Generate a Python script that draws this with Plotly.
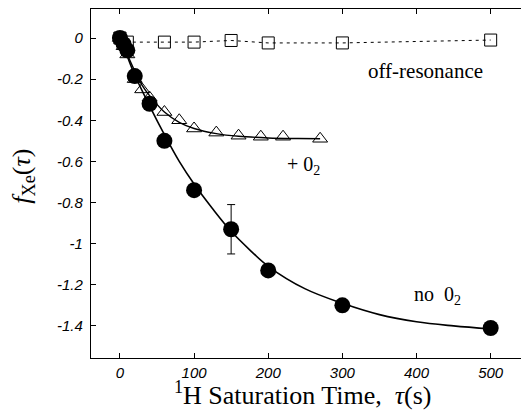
import plotly.graph_objects as go

# ---- data ----
noO2_t = [0, 5, 10, 20, 40, 60, 100, 150, 200, 300, 500]
noO2_f = [0, -0.03, -0.06, -0.185, -0.32, -0.50, -0.74, -0.93, -1.13, -1.30, -1.41]
noO2_err = [0, 0, 0, 0, 0, 0, 0, 0.12, 0, 0, 0]

o2_t = [0, 5, 10, 20, 30, 40, 60, 80, 100, 130, 160, 190, 220, 270]
o2_f = [0, -0.04, -0.08, -0.20, -0.25, -0.29, -0.36, -0.40, -0.44, -0.46, -0.475, -0.48, -0.48, -0.49]

off_t = [0, 10, 60, 100, 150, 200, 300, 500]
off_f = [0, -0.02, -0.02, -0.02, -0.012, -0.024, -0.024, -0.01]

fit_noO2_t = [0, 10, 20, 40, 60, 80, 100, 125, 150, 175, 200, 250, 300, 350, 400, 450, 500]
fit_noO2_f = [0, -0.09, -0.18, -0.33, -0.47, -0.60, -0.71, -0.83, -0.94, -1.03, -1.11, -1.22, -1.29, -1.345, -1.38, -1.40, -1.415]

fit_o2_t = [0, 10, 20, 30, 40, 60, 80, 100, 130, 160, 200, 240, 270]
fit_o2_f = [0, -0.08, -0.16, -0.23, -0.28, -0.36, -0.41, -0.44, -0.465, -0.478, -0.486, -0.489, -0.49]

y_tickvals = [0, -0.2, -0.4, -0.6, -0.8, -1, -1.2, -1.4]
y_ticktext = ["0", "-0.2", "-0.4", "-0.6", "-0.8", "-1", "-1.2", "-1.4"]
x_tickvals = [0, 100, 200, 300, 400, 500]
x_ticktext = ["0", "100", "200", "300", "400", "500"]

fig = go.Figure()

fig.add_trace(go.Scatter(x=fit_noO2_t, y=fit_noO2_f, mode="lines", line_shape="spline",
                         line=dict(color="black", width=1.6), hoverinfo="skip"))
fig.add_trace(go.Scatter(x=fit_o2_t, y=fit_o2_f, mode="lines", line_shape="spline",
                         line=dict(color="black", width=1.4), hoverinfo="skip"))
fig.add_trace(go.Scatter(x=off_t, y=off_f, mode="lines+markers",
                         line=dict(color="black", width=1, dash="3px,4px"),
                         marker=dict(symbol="square-open", size=12, color="black", line=dict(width=1))))
fig.add_trace(go.Scatter(x=o2_t, y=o2_f, mode="markers",
                         marker=dict(symbol="triangle-up-open", size=13, color="black", line=dict(width=1))))
fig.add_trace(go.Scatter(x=noO2_t, y=noO2_f, mode="markers",
                         error_y=dict(type="data", array=noO2_err, visible=True, color="black",
                                      thickness=1, width=4),
                         marker=dict(symbol="circle", size=16, color="black")))

serif = "Liberation Serif, Times New Roman, serif"
fig.add_annotation(x=412, y=-0.16, text="off-resonance", showarrow=False,
                   font=dict(family=serif, size=21, color="black"))
fig.add_annotation(x=248, y=-0.62, text="+ 0<sub>2</sub>", showarrow=False,
                   font=dict(family=serif, size=20, color="black"))
fig.add_annotation(x=428, y=-1.25, text="no  0<sub>2</sub>", showarrow=False,
                   font=dict(family=serif, size=20, color="black"))

# axis titles placed as annotations (paper coordinates)
fig.add_annotation(xref="paper", yref="paper", x=0.484, y=-0.103, xanchor="center", yanchor="middle",
                   text="<sup>1</sup>H Saturation Time,  <i>τ</i>(s)", showarrow=False,
                   font=dict(family=serif, size=26, color="black"))
fig.add_annotation(xref="paper", yref="paper", x=-0.158, y=0.52, xanchor="center", yanchor="middle",
                   text="<i>f</i><sub>Xe</sub>(<i>τ</i>)", showarrow=False, textangle=-90,
                   font=dict(family=serif, size=26, color="black"))

tickfont = dict(family="Liberation Sans, Arial, sans-serif", size=15, color="black", style="italic")
axis_common = dict(showline=True, linecolor="black", linewidth=1.2, mirror="ticks",
                   ticks="inside", ticklen=5, tickwidth=1, tickcolor="black",
                   showgrid=False, zeroline=False, tickfont=tickfont, automargin=False)

# The page body has an 8px default margin, so the figure is sized to fit the window.
fig.update_layout(
    width=521, height=405,
    margin=dict(l=83, r=2, t=1, b=55),
    paper_bgcolor="white", plot_bgcolor="white",
    showlegend=False,
    xaxis=dict(range=[-39, 549], tickvals=x_tickvals, ticktext=x_ticktext,
               ticklabelstandoff=1, **axis_common),
    yaxis=dict(range=[-1.556, 0.141], tickvals=y_tickvals, ticktext=y_ticktext,
               ticklabelstandoff=4, **axis_common),
)

fig.write_html("out.html")
